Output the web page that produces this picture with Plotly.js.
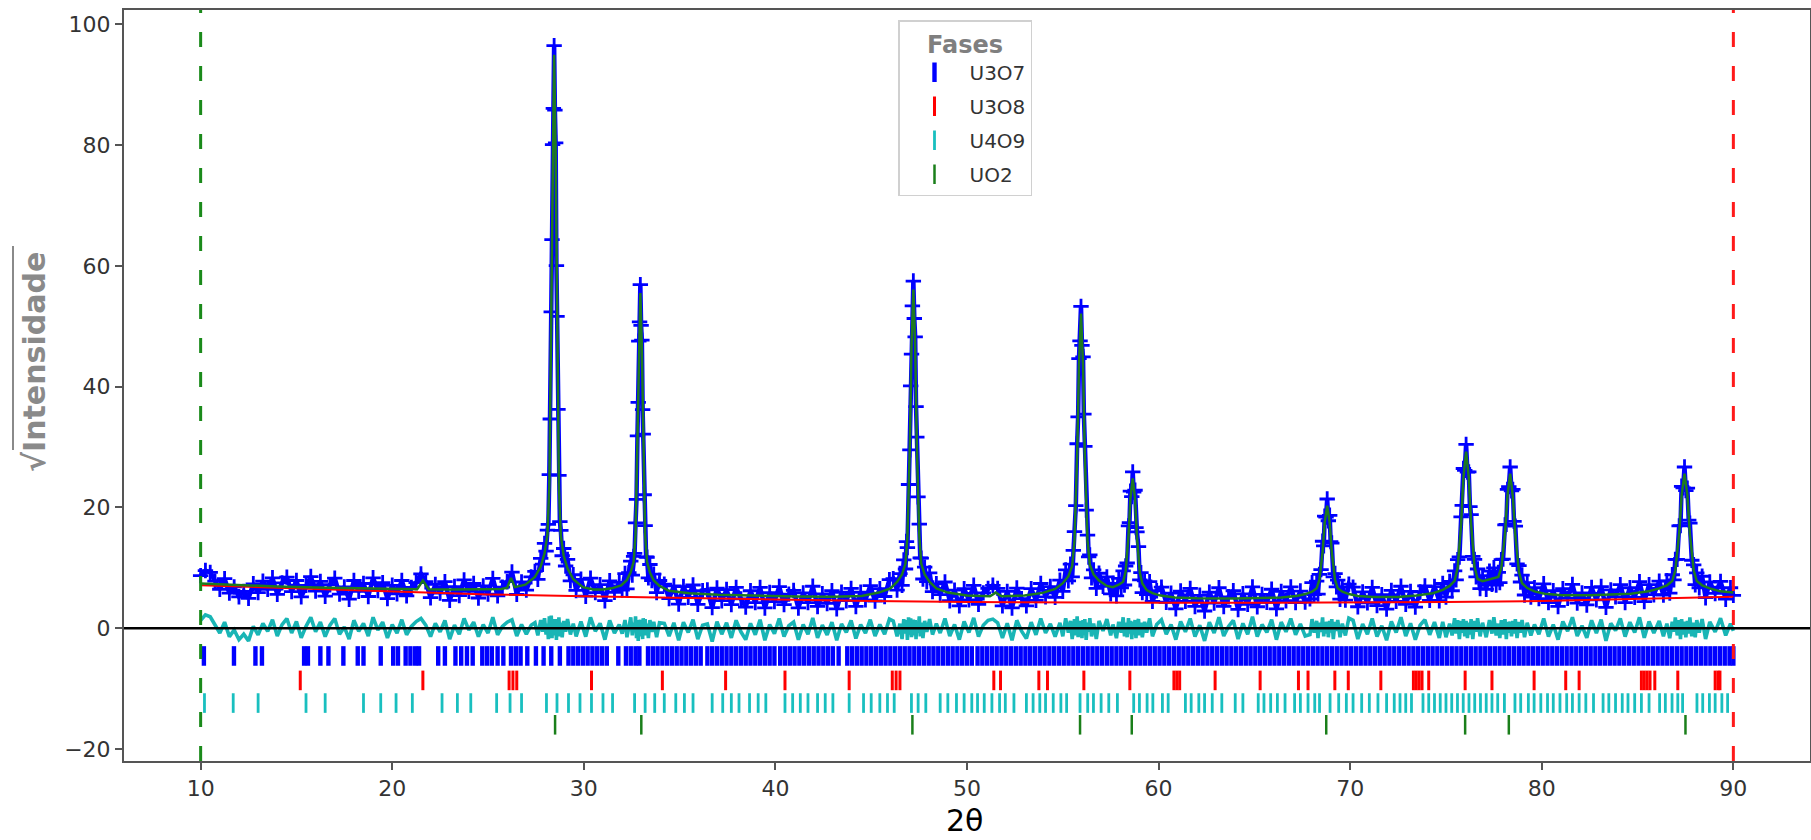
<!DOCTYPE html>
<html><head><meta charset="utf-8">
<script src="https://cdn.plot.ly/plotly-3.0.1.min.js"></script>
<style>html,body{margin:0;padding:0;background:#fff}#chart{width:1811px;height:840px}</style>
</head><body><div id="chart"></div>
<script>
// ---------------- data ----------------
// observed points (2theta) and sqrt(intensity); difference obs - calc
const obs2theta = [
10,10.25,10.5,10.75,11,11.25,11.5,11.75,12,12.25,12.5,12.75,13,13.25,13.5,13.75,14,14.25,14.5,14.75,15,15.25,15.5,15.75,16,16.25,16.5,16.75,17,17.25,17.5,17.75,18,18.25,18.5,18.75,19,19.25,19.5,19.75,20,20.25,20.5,20.75,21,21.25,21.5,21.75,22,22.25,22.5,22.75,23,23.25,23.5,23.75,24,24.25,24.5,24.75,25,25.25,25.5,25.75,26,26.25,26.5,26.75,27,27.25,
27.45,27.6,27.75,27.85,27.95,28.03,28.1,28.15,28.2,28.25,28.3,28.34,28.37,28.41,28.45,28.49,28.53,28.57,28.6,28.65,28.7,28.75,28.8,28.87,28.95,29.05,29.15,29.3,29.45,29.6,
29.85,30.1,30.35,30.6,30.85,31.1,31.35,31.6,31.85,
32.0,32.15,32.25,32.35,32.45,32.53,32.6,32.65,32.7,32.75,32.8,32.84,32.87,32.91,32.95,32.99,33.03,33.07,33.1,33.15,33.2,33.25,33.3,33.37,33.45,33.55,33.65,33.8,33.95,
34.2,34.45,34.7,34.95,35.2,35.45,35.7,35.95,36.2,36.45,36.7,36.95,37.2,37.45,37.7,37.95,38.2,38.45,38.7,38.95,39.2,39.45,39.7,39.95,40.2,40.45,40.7,40.95,41.2,41.45,41.7,41.95,42.2,42.45,42.7,42.95,43.2,43.45,43.7,43.95,44.2,44.45,44.7,44.95,45.2,45.45,45.7,45.95,
46.15,46.35,46.5,46.61,46.7,46.79,46.84,46.89,46.95,47.02,47.06,47.105,47.15,47.2,47.25,47.295,47.34,47.38,47.44,47.51,47.56,47.61,47.7,47.79,47.9,48.05,48.2,48.4,
48.6,48.85,49.1,49.35,49.6,49.85,50.1,50.35,50.6,50.85,51.1,51.35,51.6,51.85,52.1,52.35,52.6,52.85,53.1,53.35,53.6,53.85,54.1,54.35,54.6,
54.85,55.0,55.15,55.29,55.4,55.49,55.55,55.61,55.68,55.75,55.8,55.845,55.9,55.95,56.0,56.055,56.1,56.15,56.22,56.29,56.35,56.41,56.5,56.61,56.75,56.89,57.1,57.3,57.5,57.62,57.8,57.92,58.05,58.15,58.22,58.28,58.36,58.43,58.48,58.53,58.6,58.65,58.7,58.77,58.82,58.87,58.95,59.02,59.08,59.15,59.27,59.38,59.53,59.68,59.9,
60.15,60.4,60.65,60.9,61.15,61.4,61.65,61.9,62.15,62.4,62.65,62.9,63.15,63.4,63.65,63.9,64.15,64.4,64.65,64.9,65.15,65.4,65.65,65.9,66.15,66.4,66.65,66.9,67.15,67.4,67.65,
67.9,68.01,68.12,68.25,68.32,68.39,68.48,68.56,68.62,68.67,68.74,68.8,68.86,68.93,68.98,69.04,69.12,69.21,69.28,69.35,69.47,69.59,69.75,69.93,
70.15,70.4,70.65,70.9,71.15,71.4,71.65,71.9,72.15,72.4,72.65,72.9,73.15,73.4,73.65,73.9,74.15,74.4,74.65,
74.83,75.0,75.19,75.32,75.45,75.53,75.61,75.7,75.79,75.85,75.91,75.98,76.05,76.12,76.19,76.25,76.31,76.4,76.49,76.57,76.65,76.78,76.91,77.1,77.27,77.4,77.5,77.62,77.73,77.81,77.89,77.98,78.08,78.15,78.21,78.28,78.35,78.42,78.49,78.55,78.62,78.71,78.81,78.89,78.97,79.1,79.24,79.43,79.62,
79.85,80.1,80.35,80.6,80.85,81.1,81.35,81.6,81.85,82.1,82.35,82.6,82.85,83.1,83.35,83.6,83.85,84.1,84.35,84.6,84.85,85.1,85.35,85.6,85.85,
86.13,86.35,86.53,86.68,86.81,86.9,86.97,87.07,87.17,87.24,87.3,87.38,87.45,87.52,87.6,87.67,87.73,87.83,87.93,88.01,88.09,88.22,88.37,88.55,88.77,89.05,89.33,89.6,89.85,90.0];

const obsSqrtI = [
8.7,9.55,9.25,7.8,6.45,8.2,5.8,6.85,5.2,6.1,4.95,7.35,5.9,7.8,6.45,8.35,5.6,7.5,8.45,6.05,7.9,5.2,7.1,8.55,6.15,7.75,5.3,7.2,8.3,5.65,6.85,4.8,7.9,6.1,7.4,5.25,8.35,6.25,7.55,4.9,7.1,5.7,7.9,5.35,6.75,7.55,9.0,7.7,5.05,7.25,5.8,7.7,4.6,6.9,5.4,8.0,6.1,7.4,5.0,7.0,5.65,8.25,5.35,6.8,7.7,9.3,5.6,7.65,6.3,8.5,
9.4,8.1,11.55,10.6,14.05,12.75,16.25,17.2,25.45,34.65,52.4,64.35,80.1,86.1,96.5,85.8,80.4,60.05,51.65,36.25,25.3,17.65,16.2,12.0,13.2,10.3,11.4,7.85,8.85,6.25,
8.1,5.3,8.3,5.9,7.2,4.55,7.85,5.95,7.6,
6.3,9.05,6.5,9.2,11.1,8.8,11.9,12.4,17.45,21.35,31.85,37.4,47.55,50.75,56.9,50.15,47.7,36.2,32.15,22.1,17.0,11.8,11.75,8.35,10.55,7.9,8.95,5.9,7.9,
7.3,4.9,7.0,4.0,6.9,5.1,7.15,3.95,6.2,6.35,3.4,6.65,4.55,6.4,3.9,6.75,4.85,3.5,6.2,4.25,6.75,3.35,5.9,4.4,6.9,3.9,5.65,6.25,3.35,5.85,4.25,6.95,3.6,5.7,4.1,6.2,3.2,5.95,4.55,6.6,3.6,5.95,4.7,7.05,4.5,6.55,5.25,8.05,
8.2,6.3,9.05,7.1,11.3,9.8,14.35,13.35,23.8,29.55,40.15,45.4,53.4,57.5,51.3,48.25,36.7,31.65,21.75,17.25,11.65,11.6,8.15,10.1,7.7,9.15,6.05,7.35,
5.55,7.65,4.55,6.3,3.7,6.55,4.7,7.1,3.95,5.85,6.6,7.1,6.6,3.7,6.1,3.35,6.65,4.9,3.7,6.55,4.6,7.4,5.2,6.9,5.1,
7.95,6.1,9.65,7.85,10.6,8.5,12.9,16.0,20.3,30.55,35.0,44.65,47.6,53.3,46.85,44.95,35.45,30.1,19.55,15.4,11.8,12.15,8.35,9.65,6.6,9.1,6.95,8.5,5.7,7.4,5.35,8.25,6.7,9.5,7.15,10.3,10.8,16.95,17.5,22.7,21.8,25.9,22.55,22.85,16.65,15.95,13.5,8.0,9.2,5.9,7.85,5.55,7.7,4.45,6.2,
6.8,4.3,5.8,3.2,6.15,4.45,6.6,3.6,5.45,2.85,5.95,4.15,6.7,3.6,5.2,6.2,3.1,5.7,3.95,6.85,3.55,5.6,4.3,6.45,3.2,6.1,4.55,6.85,4.25,6.15,4.35,
4.85,7.55,5.55,7.8,5.65,8.9,9.7,14.4,13.65,18.55,18.4,21.4,17.8,18.7,14.35,14.1,8.5,9.05,6.85,7.95,4.8,6.8,4.65,7.3,
6.8,3.55,6.0,4.2,6.75,3.75,5.55,3.15,6.25,4.45,6.95,3.95,6.1,3.5,6.0,7.0,4.6,6.9,4.55,
7.4,5.15,7.75,6.2,9.5,8.0,11.35,11.8,18.45,20.35,26.45,26.15,30.45,25.85,25.9,20.15,18.8,11.9,11.4,8.5,9.8,6.55,8.7,6.45,9.45,7.25,10.0,7.15,9.25,7.55,11.35,11.45,17.1,17.2,23.0,23.45,26.7,22.75,23.0,17.7,16.9,10.65,10.35,7.65,8.8,5.5,7.55,5.15,6.7,
4.9,7.35,4.25,6.2,3.6,6.55,4.95,7.25,4.15,5.85,3.85,6.75,4.7,6.9,3.45,6.35,5.2,7.2,4.25,6.7,5.1,7.7,4.4,7.2,5.55,
7.8,5.5,7.85,5.8,8.85,8.0,11.4,11.4,16.95,17.0,23.5,23.25,26.7,22.8,23.2,17.9,17.4,11.25,10.5,7.2,9.15,6.7,8.6,5.05,7.65,5.75,7.75,4.8,6.7,5.45];

const diffSqrtI = [
1.3,2.2,1.9,0.5,-0.8,1.0,-1.4,-0.3,-1.9,-1.0,-2.1,0.3,-1.1,0.8,-0.5,1.4,-1.3,0.6,1.6,-0.8,1.1,-1.6,0.3,1.8,-0.6,1.0,-1.4,0.5,1.6,-1.0,0.2,-1.8,1.3,-0.5,0.8,-1.3,1.8,-0.3,1.0,-1.6,0.6,-0.8,1.4,-1.1,0.3,1.1,1.6,0.5,-1.4,0.8,-0.6,1.3,-1.8,0.5,-1.0,1.6,-0.3,1.0,-1.4,0.6,-0.8,1.8,-1.1,0.3,1.0,1.4,-1.3,0.6,-1.0,0.5,
0.9,-1.2,1.35,-0.6,1.65,-1.05,0.75,-1.8,1.95,-1.35,2.1,-1.65,1.2,-0.9,1.5,-1.2,1.5,-1.95,1.35,-0.75,1.8,-1.35,0.9,-1.5,1.2,-0.6,1.5,-1.05,0.75,-1.35,
1.1,-1.4,1.8,-0.5,0.8,-1.9,1.3,-0.8,0.6,
-0.9,1.35,-1.5,0.6,1.8,-1.2,0.9,-0.6,1.95,-1.65,1.35,-2.1,1.05,-0.75,1.4,-1.35,1.2,-1.8,1.65,-0.9,1.5,-1.2,0.75,-1.65,1.35,-0.6,1.05,-1.5,0.9,
0.8,-1.3,0.9,-2.0,1.0,-0.7,1.4,-1.8,0.5,0.7,-2.2,1.1,-1.0,0.9,-1.6,1.3,-0.6,-1.9,0.8,-1.1,1.4,-2.0,0.6,-0.9,1.6,-1.4,0.4,1.0,-1.9,0.6,-1.0,1.7,-1.6,0.5,-1.1,1.0,-2.0,0.7,-0.7,1.3,-1.7,0.6,-0.8,1.4,-1.3,0.6,-1.0,1.5,
1.2,-1.35,0.75,-1.8,1.5,-0.9,1.35,-1.95,1.8,-1.05,1.65,-1.5,0.9,1.4,-1.2,1.35,-1.8,1.05,-0.75,1.95,-1.35,0.9,-1.65,1.2,-0.6,1.5,-1.05,0.75,
-0.8,1.6,-1.3,0.6,-1.9,1.1,-0.7,1.7,-1.4,0.5,1.3,1.5,0.9,-1.6,0.8,-2.0,1.3,-0.5,-1.7,1.0,-1.1,1.6,-0.8,0.7,-1.4,
0.9,-1.35,1.65,-0.75,1.2,-1.8,0.6,1.5,-1.2,1.95,-1.5,1.05,-0.9,1.2,-1.65,1.35,-1.05,1.5,-1.95,0.9,-0.6,1.65,-1.35,0.75,-1.8,1.2,-0.45,1.5,-1.2,0.6,-1.65,1.05,-0.75,1.8,-1.35,0.9,-1.5,1.65,-0.9,1.2,-1.8,1.1,-1.05,1.35,-1.65,0.75,1.5,-1.2,0.9,-1.5,1.05,-0.75,1.65,-1.35,0.6,
1.4,-1.0,0.6,-1.9,1.1,-0.6,1.6,-1.4,0.5,-2.1,1.0,-0.8,1.8,-1.3,0.3,1.3,-1.8,0.8,-1.0,1.9,-1.4,0.6,-0.7,1.4,-1.9,1.0,-0.6,1.6,-1.1,0.7,-1.3,
-1.05,1.5,-0.75,1.2,-1.65,0.9,-0.6,1.8,-1.35,1.05,-0.9,1.1,-1.5,1.2,-0.75,1.5,-1.8,1.05,-0.45,1.35,-1.5,0.75,-1.2,1.65,
1.3,-1.8,0.7,-1.0,1.6,-1.4,0.4,-2.0,1.1,-0.7,1.8,-1.3,0.8,-1.9,0.5,1.4,-1.1,1.0,-1.6,
1.05,-1.5,0.75,-1.2,1.65,-0.9,1.35,-1.8,1.2,-0.75,1.5,-1.35,1.2,-1.65,0.9,-1.05,1.5,-1.8,1.2,-0.6,1.65,-1.35,0.9,-1.5,1.35,-0.9,1.8,-1.2,0.75,-1.65,1.35,-1.05,1.5,-1.8,1.05,-0.75,1.1,-1.35,1.2,-0.9,1.5,-1.65,1.05,-0.75,1.35,-1.5,0.9,-1.2,0.6,
-1.0,1.6,-1.4,0.6,-1.9,1.1,-0.5,1.8,-1.3,0.4,-1.6,1.3,-0.8,1.4,-2.1,0.8,-0.4,1.6,-1.4,1.0,-0.7,1.8,-1.6,1.1,-0.8,
1.2,-1.35,0.75,-1.65,1.05,-0.6,1.8,-1.2,1.35,-1.8,1.5,-1.05,1.1,-1.5,1.2,-0.9,1.8,-1.35,0.9,-1.5,1.35,-0.75,1.5,-1.8,1.05,-0.6,1.65,-1.2,0.75,-0.45];

// calculated profile
const calc2theta = [10,11,12.5,14,16,18,20,21.3,21.6,21.9,23,24.5,25.7,26.0,26.2,26.4,26.95,27.45,27.75,27.95,28.1,28.2,28.3,28.37,28.45,28.53,28.6,28.7,28.8,28.95,29.15,29.45,29.95,30.5,31.0,31.45,31.95,32.25,32.45,32.6,32.7,32.8,32.87,32.95,33.03,33.1,33.2,33.3,33.45,33.65,33.95,34.45,35.5,37,39,41,43,44.5,45.4,46.0,46.35,46.61,46.79,46.89,47.02,47.105,47.2,47.295,47.38,47.51,47.61,47.79,48.05,48.4,49.0,50.0,51.2,51.5,51.8,53.0,53.95,54.6,55.0,55.29,55.49,55.61,55.75,55.845,55.95,56.055,56.15,56.29,56.41,56.61,56.89,57.3,57.62,57.92,58.15,58.28,58.43,58.53,58.65,58.77,58.87,59.02,59.15,59.38,59.68,60.1,60.85,62,64,66.4,67.2,67.67,68.01,68.25,68.39,68.56,68.67,68.8,68.93,69.04,69.21,69.35,69.59,69.93,70.4,71.2,72.5,73.45,74.31,74.83,75.19,75.45,75.61,75.79,75.91,76.05,76.19,76.31,76.49,76.65,76.91,77.27,77.5,77.73,77.89,78.08,78.21,78.35,78.49,78.62,78.81,78.97,79.24,79.62,80.15,81.05,82.5,84.0,84.65,85.57,86.13,86.53,86.81,86.97,87.17,87.3,87.45,87.6,87.73,87.93,88.09,88.37,88.77,89.33,90.0];
const calcSqrtI = [7.4,7.25,7.05,6.9,6.75,6.6,6.5,6.45,7.9,6.45,6.4,6.4,6.5,6.7,8.3,6.8,7.2,8.5,10.2,12.4,15.5,23.5,50.3,78.9,95.0,78.9,50.3,23.5,15.3,12.0,9.9,8.1,6.8,6.4,6.4,6.6,7.1,8.0,9.3,11.0,15.5,30.5,46.5,55.5,46.5,30.5,15.5,11.0,9.2,7.9,7.0,6.2,5.8,5.55,5.35,5.25,5.2,5.35,5.9,6.6,7.65,8.9,10.7,15.3,30.6,46.9,56.1,46.9,30.6,15.3,10.7,8.9,7.65,6.6,5.9,5.4,5.3,5.9,5.3,5.4,5.85,6.5,7.45,8.6,10.3,14.5,28.6,43.6,52.1,43.6,28.6,14.5,10.5,8.9,7.9,7.0,6.8,7.2,7.7,9.4,15.3,21.5,24.8,21.5,15.2,9.2,7.4,6.3,5.8,5.4,5.1,4.95,4.9,5.1,5.35,5.65,6.05,6.6,8.0,12.6,17.5,20.3,17.5,12.6,8.0,6.6,6.05,5.65,5.35,5.15,5.15,5.4,5.8,6.35,7.0,7.85,10.0,17.25,24.95,29.25,25.0,17.3,10.2,8.15,7.8,8.1,8.2,8.5,10.0,15.6,21.95,25.6,21.8,15.4,9.3,7.45,6.65,6.1,5.7,5.45,5.45,5.6,5.7,6.1,6.6,7.1,7.8,9.6,15.6,22.0,25.6,22.0,15.6,9.6,7.8,7.1,6.6,6.1,5.9];

// background
const bg2theta = [10,15,20,25,30,35,40,45,50,55,60,65,70,75,80,85,90];
const bgSqrtI  = [7.1,6.6,6.05,5.6,5.3,5.0,4.75,4.5,4.35,4.25,4.2,4.2,4.25,4.35,4.5,4.8,5.2];

// reflection positions of each phase (2theta)
const phaseNames = ['U3O7','U3O8','U4O9','UO2'];
const posU3O7 = [10.17,11.74,12.86,13.2,15.4,15.6,16.25,16.67,17.45,18.2,18.5,19.4,20.05,20.3,20.7,20.95,21.2,21.4,22.4,22.75,23.3,23.6,23.9,24.2,24.7,24.95,25.2,25.5,25.8,26.2,26.45,26.7,27.05,27.5,27.9,28.3,28.75,29.2,29.45,29.7,29.95,30.2,30.45,30.7,30.95,31.2,31.8,32.2,32.45,32.7,32.9,33.35,33.6,33.85,34.1,34.35,34.6,34.85,35.1,35.35,35.6,35.85,36.1,36.45,36.7,36.95,37.2,37.45,37.7,37.95,38.2,38.45,38.7,38.95,39.2,39.45,39.7,39.95,40.25,40.5,40.75,41.0,41.25,41.5,41.75,42.0,42.25,42.5,42.75,43.0,43.3,43.75,44.0,44.25,44.5,44.75,45.0,45.25,45.5,45.75,46.0,46.25,46.5,46.75,47.0,47.25,47.5,47.75,48.0,48.25,48.5,48.75,49.0,49.25,49.5,49.75,50.0,50.25,50.55,50.8,51.05,51.3,51.55,51.8,52.05,52.3,52.55,52.8,53.05,53.3,53.55,53.8,54.05,54.3,54.55,54.8,55.05,55.3,55.55,55.8,56.05,56.3,56.55,56.8,57.05,57.3,57.55,57.8,58.05,58.3,58.55,58.8,59.05,59.3,59.55,59.8,60.05,60.3,60.55,60.8,61.05,61.3,61.55,61.8,62.05,62.3,62.55,62.8,63.05,63.3,63.55,63.8,64.05,64.3,64.55,64.8,65.05,65.3,65.55,65.8,66.05,66.3,66.55,66.8,67.05,67.3,67.55,67.8,68.05,68.3,68.55,68.8,69.05,69.3,69.55,69.8,70.05,70.3,70.55,70.8,71.05,71.3,71.55,71.8,72.05,72.3,72.55,72.8,73.05,73.3,73.55,73.8,74.05,74.3,74.55,74.8,75.05,75.3,75.55,75.8,76.05,76.3,76.55,76.8,77.05,77.3,77.55,77.8,78.05,78.3,78.55,78.8,79.05,79.3,79.55,79.8,80.05,80.3,80.55,80.8,81.05,81.3,81.55,81.8,82.05,82.3,82.55,82.8,83.05,83.3,83.55,83.8,84.05,84.3,84.55,84.8,85.05,85.3,85.55,85.8,86.05,86.3,86.55,86.8,87.05,87.3,87.55,87.8,88.05,88.3,88.55,88.8,89.05,89.3,89.55,89.8,90.0];
const posU3O8 = [15.2,21.6,26.1,26.3,26.5,30.4,34.1,37.4,40.5,43.85,46.1,46.3,46.5,51.4,51.75,53.75,54.2,56.1,58.5,60.8,60.95,61.1,62.95,65.3,67.3,67.8,69.2,69.9,71.6,73.3,73.45,73.6,73.75,74.1,76.0,77.4,79.6,81.25,81.95,85.2,85.35,85.5,85.65,85.9,87.1,89.05,89.2,89.3];
const posU4O9 = [10.2,11.7,13.0,15.5,16.5,18.5,19.4,20.2,21.05,22.6,23.4,24.1,25.45,26.15,26.75,28.05,28.6,29.2,29.8,30.4,31.0,31.5,32.65,33.2,33.7,34.2,34.8,35.25,35.7,36.7,37.25,37.7,38.1,38.65,39.1,39.5,40.5,40.9,41.3,41.7,42.2,42.6,43.0,43.85,44.6,45.0,45.45,45.85,46.2,47.1,47.45,47.85,48.6,49.0,49.45,49.85,50.25,50.55,50.9,51.3,51.7,52.0,52.45,53.1,53.45,53.8,54.1,54.5,54.9,55.2,55.9,56.3,56.6,57.0,57.4,57.85,58.7,59.0,59.4,59.7,60.2,60.5,61.4,61.7,62.1,62.4,62.8,63.3,64.0,64.4,65.2,65.5,65.85,66.2,66.6,67.1,67.4,67.8,68.15,68.4,68.95,69.4,69.8,70.15,70.6,71.0,71.45,71.9,72.3,72.6,72.9,73.2,73.8,74.1,74.4,74.7,75.0,75.3,75.6,75.9,76.2,76.5,76.8,77.1,77.4,77.7,78.05,78.6,78.9,79.3,79.6,79.95,80.3,80.6,80.95,81.3,81.6,81.95,82.3,82.7,83.2,83.5,83.85,84.2,84.5,84.85,85.2,85.6,86.15,86.45,86.8,87.1,87.35,88.1,88.4,88.75,89.05,89.4,89.7];
const posUO2 = [28.5,33.0,47.15,55.9,58.6,68.75,76.0,78.28,87.5];
const refineLimits = [10, 90];

// ---------------- drawing ----------------
const FONT = 'DejaVu Sans, Verdana, sans-serif';
const phaseStyle = [
  {pos: posU3O7, color: '#0000ff', row: -4.6,  w: 4.4},
  {pos: posU3O8, color: '#ff0000', row: -8.65, w: 3},
  {pos: posU4O9, color: '#19bfbf', row: -12.4, w: 2.8},
  {pos: posUO2,  color: '#1a7f1a', row: -16.0, w: 2.5}
];

const traces = [
  {x: obs2theta, y: obsSqrtI, type: 'scatter', mode: 'lines+markers', showlegend: false, hoverinfo: 'skip',
   line: {color: '#0000ff', width: 4.5},
   marker: {symbol: 'cross-thin', size: 11, color: '#0000ff', line: {color: '#0000ff', width: 2.8}}},
  {x: bg2theta, y: bgSqrtI, type: 'scatter', mode: 'lines', showlegend: false, hoverinfo: 'skip',
   line: {color: '#ff0000', width: 2}},
  {x: calc2theta, y: calcSqrtI, type: 'scatter', mode: 'lines', showlegend: false, hoverinfo: 'skip',
   line: {color: '#1f7a1f', width: 2.5}},
  {x: obs2theta, y: diffSqrtI, type: 'scatter', mode: 'lines', showlegend: false, hoverinfo: 'skip',
   line: {color: '#19b5b5', width: 3.6}}
];
phaseStyle.forEach((p, i) => {
  traces.push({
    x: p.pos, y: p.pos.map(() => p.row), type: 'scatter', mode: 'markers',
    name: phaseNames[i], legendgroup: phaseNames[i], hoverinfo: 'skip',
    marker: {symbol: 'line-ns', size: 14, color: p.color, line: {color: p.color, width: p.w}}
  });
});

const W = 1811, H = 840, ML = 124, MR = 1, MT = 10, MB = 79;
const pw = W - ML - MR, ph = H - MT - MB;
const px2x = px => (px - ML) / pw;
const py2y = py => (H - MB - py) / ph;

const axisCommon = {
  showgrid: false, zeroline: false, showline: true, mirror: true,
  linecolor: '#555', linewidth: 2, ticks: 'outside', ticklen: 7, tickwidth: 2, tickcolor: '#555',
  tickfont: {family: FONT, size: 22, color: '#333'}
};

const layout = {
  width: W, height: H,
  margin: {l: ML, r: MR, t: MT, b: MB, pad: 0},
  paper_bgcolor: '#fff', plot_bgcolor: '#fff',
  font: {family: FONT},
  xaxis: Object.assign({}, axisCommon, {range: [6, 94], tickvals: [10,20,30,40,50,60,70,80,90]}),
  yaxis: Object.assign({}, axisCommon, {range: [-22, 102.4], tickvals: [-20,0,20,40,60,80,100]}),
  showlegend: true,
  legend: {
    x: px2x(898), y: py2y(20), xanchor: 'left', yanchor: 'top',
    bgcolor: 'rgba(255,255,255,0.85)', bordercolor: '#d0d0d0', borderwidth: 1.5,
    font: {family: FONT, size: 20, color: '#333'},
    title: {text: '<b>Fases</b>', side: 'top center', font: {family: FONT, size: 24, color: '#7f7f7f'}},
    tracegroupgap: 5, itemwidth: 60
  },
  shapes: [
    {type: 'line', xref: 'x', yref: 'paper', x0: refineLimits[0], x1: refineLimits[0], y0: 0, y1: 1,
     line: {color: '#1a8a1a', width: 3, dash: '15px,19px'}, layer: 'above'},
    {type: 'line', xref: 'x', yref: 'paper', x0: refineLimits[1], x1: refineLimits[1], y0: 0, y1: 1,
     line: {color: '#ff1a1a', width: 3, dash: '15px,19px'}, layer: 'above'},
    {type: 'line', xref: 'paper', yref: 'y', x0: 0, x1: 1, y0: 0, y1: 0,
     line: {color: '#000', width: 2.5}, layer: 'above'},
    {type: 'line', xref: 'paper', yref: 'paper', x0: px2x(13), x1: px2x(13), y0: py2y(450), y1: py2y(246),
     line: {color: '#8a8a8a', width: 2}}
  ],
  annotations: [
    {text: '<b>√Intensidade</b>', xref: 'paper', yref: 'paper', x: px2x(34), y: py2y(362),
     xanchor: 'center', yanchor: 'middle', textangle: -90, showarrow: false,
     font: {family: FONT, size: 30, color: '#8a8a8a'}},
    {text: '2θ', xref: 'paper', yref: 'paper', x: px2x(964), y: py2y(820),
     xanchor: 'center', yanchor: 'middle', showarrow: false,
     font: {family: FONT, size: 30, color: '#000'}}
  ],
  hovermode: false
};

Plotly.newPlot('chart', traces, layout, {displayModeBar: false, staticPlot: true});
</script>
</body></html>
